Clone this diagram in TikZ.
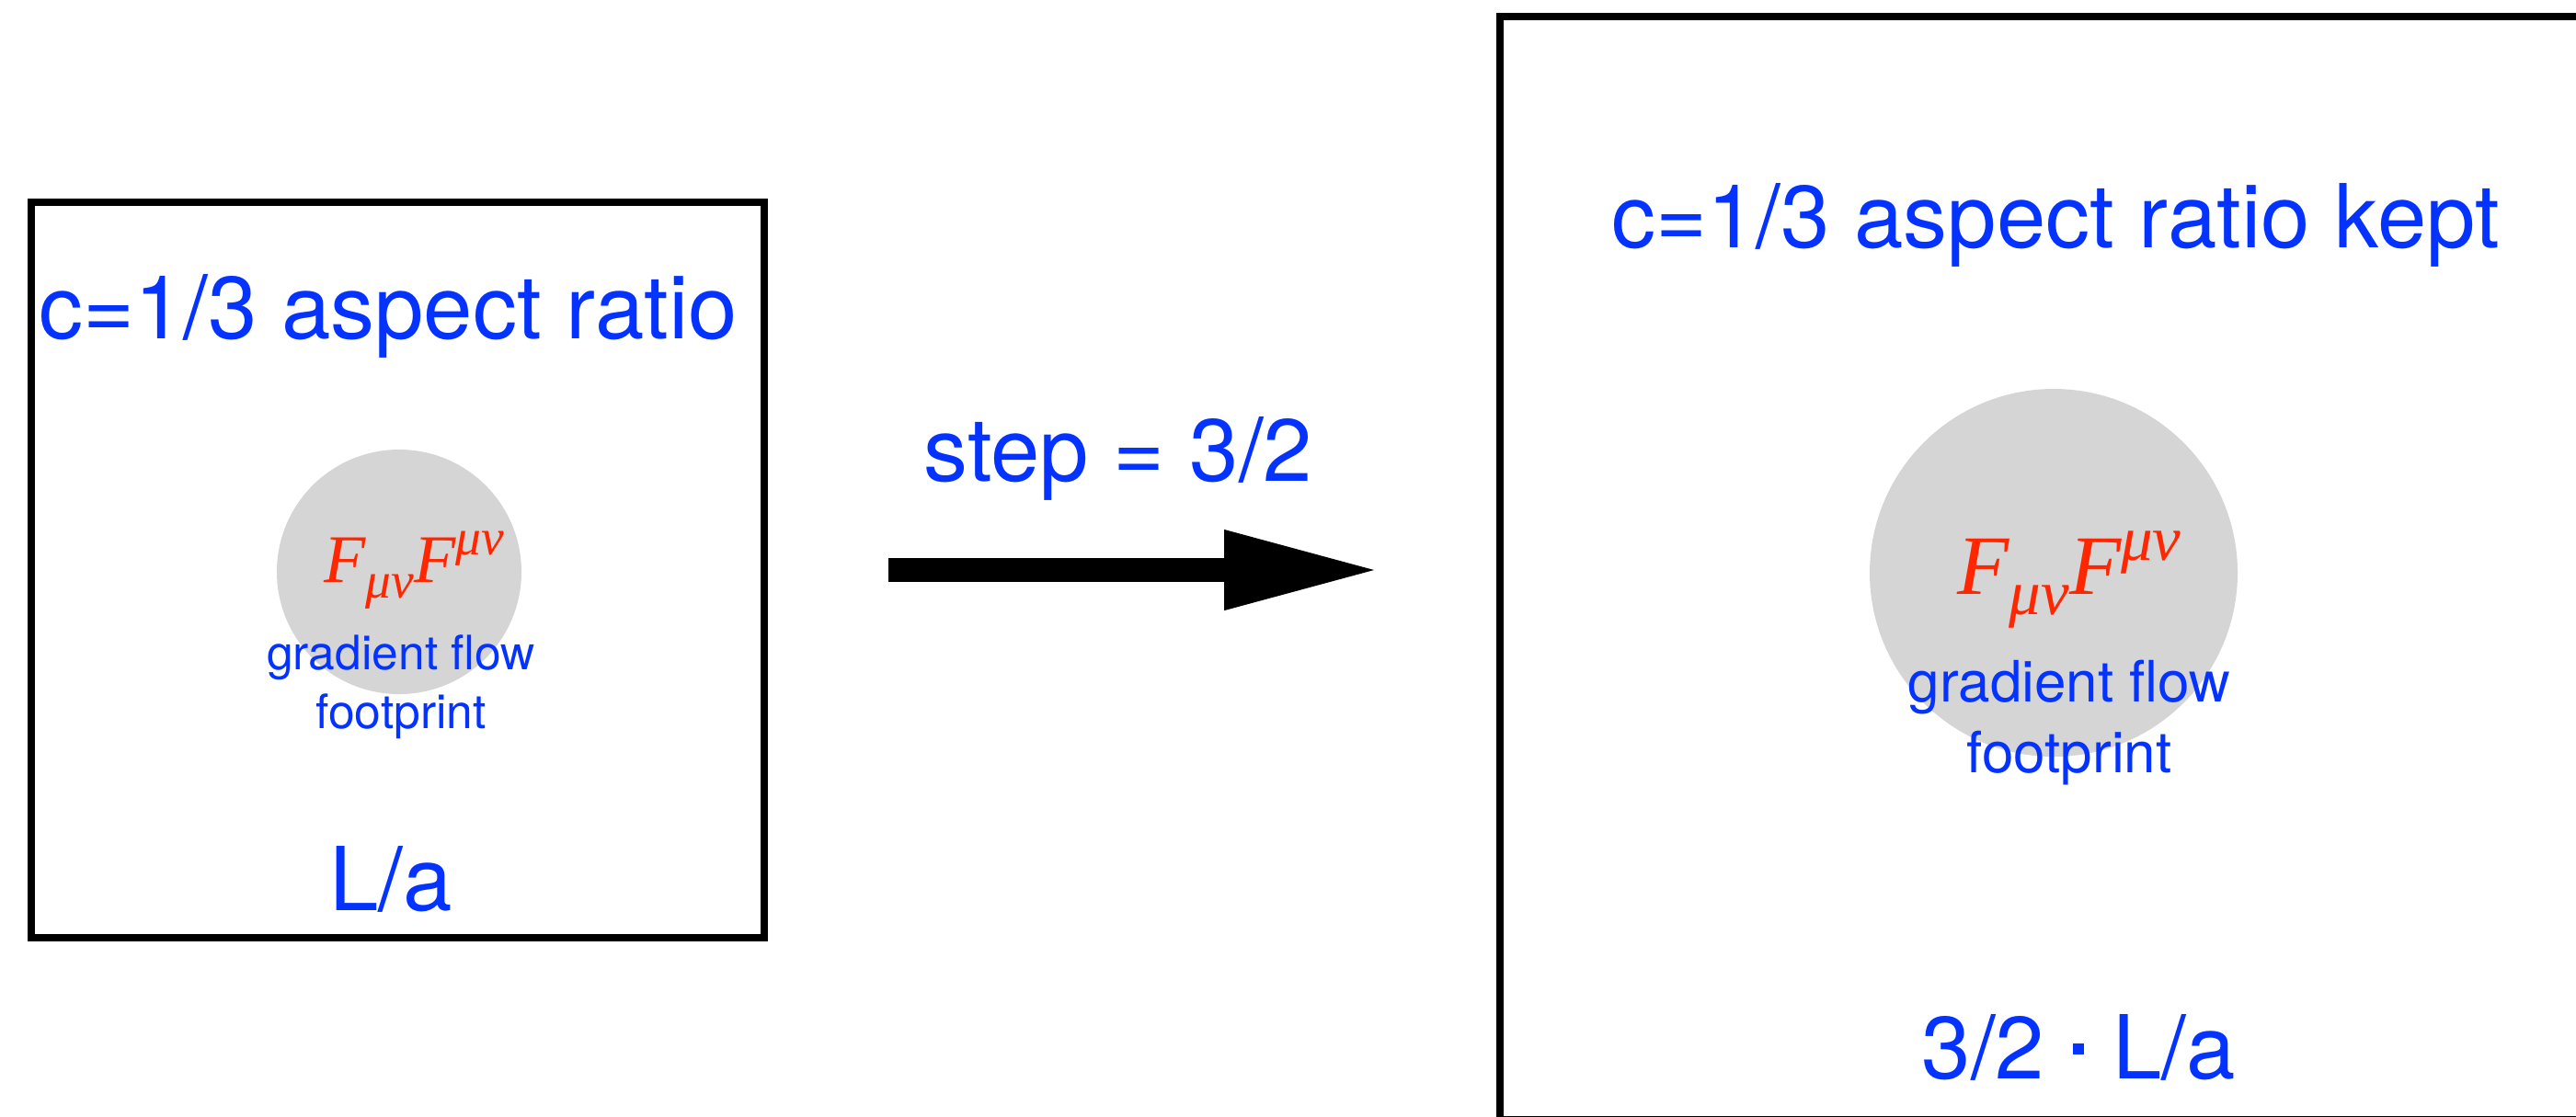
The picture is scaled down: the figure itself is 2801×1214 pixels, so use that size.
\documentclass[tikz,border=0pt]{standalone}
\usepackage{fontspec}
\usepackage{graphicx}
\setmainfont{TeX Gyre Heros}
\newfontfamily\timesfam{Liberation Serif}
\usetikzlibrary{arrows.meta}
\definecolor{kblue}{RGB}{4,51,255}
\definecolor{kred}{RGB}{255,38,0}
\definecolor{kgray}{RGB}{213,213,213}
\newcommand\FFterm[1]{{\timesfam\itshape\fontsize{#1}{#1}\selectfont F\raisebox{-0.24em}{\scalebox{0.75}{μν}}F\raisebox{0.4em}{\scalebox{0.75}{μν}}}}
\tikzset{
  frame/.style={draw=black, line width=1.9pt, inner sep=0pt},
  blob/.style={circle, fill=kgray, inner sep=0pt},
  bigtxt/.style={text=kblue, anchor=base, inner sep=0pt, font=\fontsize{24}{28}\selectfont},
  formula/.style={text=kred, anchor=base, inner sep=0pt},
  smalltxt/.style={text=kblue, anchor=base, inner sep=0pt, align=center}
}
\begin{document}
\begin{tikzpicture}[x=0.25pt, y=-0.25pt]
\useasboundingbox (0,0) rectangle (2801,1214);
\clip (0,0) rectangle (2801,1214);
% left panel
\node[frame, minimum width=199.25pt, minimum height=200pt] (lbox) at (432.5,620) {};
\node[blob, minimum size=66.5pt] (lcirc) at (434,622) {};
\node[bigtxt] (ltitle) at (422,368) {c=1/3 aspect ratio};
\node[formula] (lform) at (450,633) {\FFterm{18.5}};
\node[smalltxt, font=\fontsize{12.9}{16}\selectfont] (lgf) at (436,792) {gradient flow\\footprint};
\node[bigtxt] (lsize) at (425,990) {L/a};
% arrow
\node[bigtxt] (steplabel) at (1216,523) {step = 3/2};
\coordinate (astart) at (966,620);
\coordinate (aend) at (1501,620);
\draw[line width=6.5pt, -{Triangle[length=42.5pt 0 0, width=20pt 0 0]}] (astart) -- (aend);
% right panel
\node[frame, minimum width=299pt, minimum height=300pt] (rbox) at (2229,618) {};
\node[blob, minimum size=100pt] (rcirc) at (2233,623) {};
\node[bigtxt] (rtitle) at (2235,269) {c=1/3 aspect ratio kept};
\node[formula] (rform) at (2250,646) {\FFterm{23}};
\node[smalltxt, font=\fontsize{15.5}{19.25}\selectfont] (rgf) at (2250,840) {gradient flow\\footprint};
\node[bigtxt] (rsize) at (2260,1173) {3/2\hspace{0.32em}\rule[0.27em]{0.13em}{0.13em}\hspace{0.32em}L/a};
\end{tikzpicture}
\end{document}
